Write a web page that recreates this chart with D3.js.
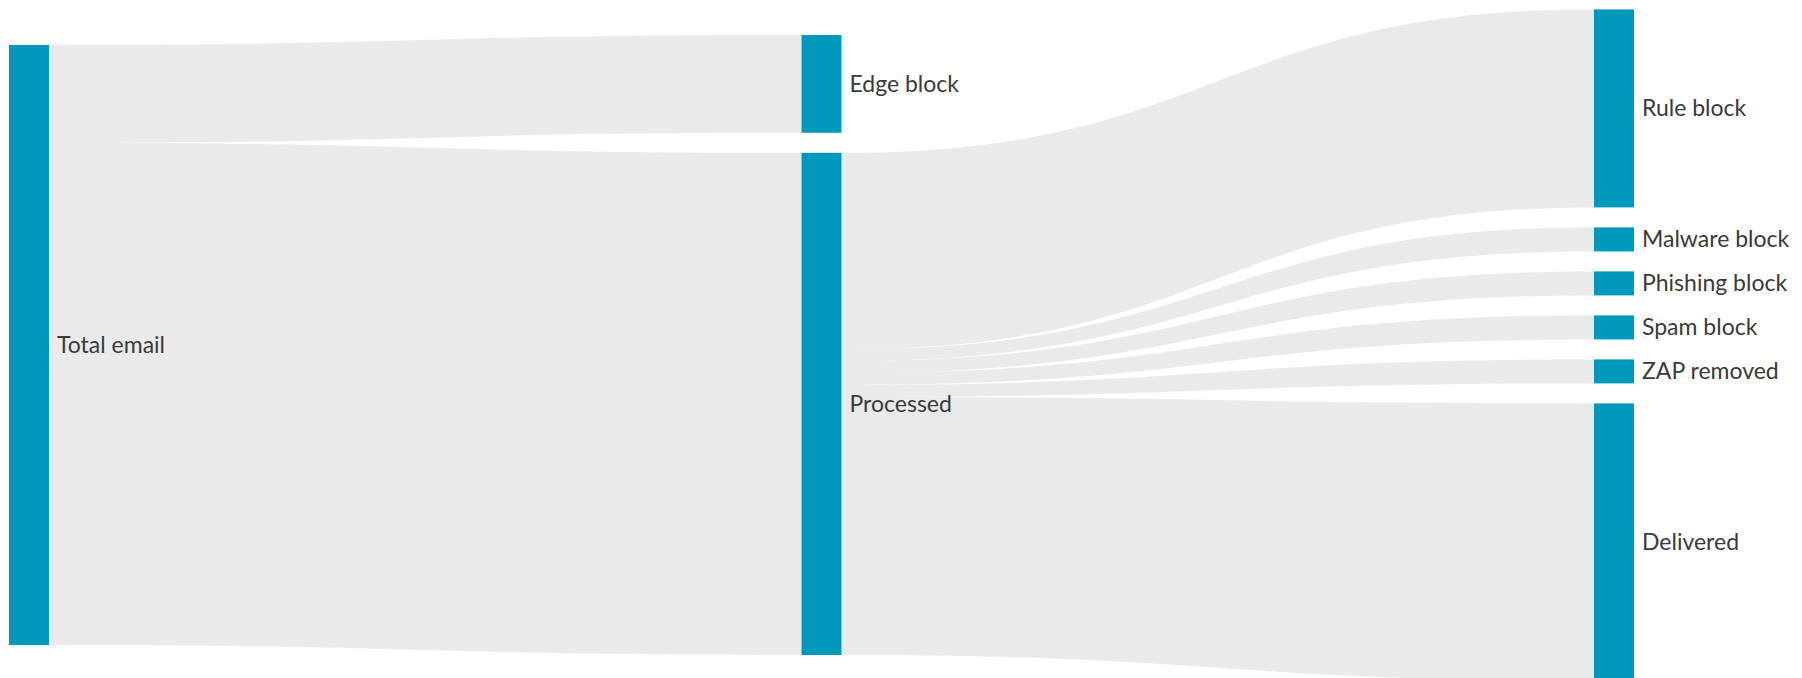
<!DOCTYPE html>
<html>
<head>
<meta charset="utf-8">
<script src="https://cdn.jsdelivr.net/npm/d3@7"></script>
<style>
  body { margin: 0; background: #fff; }
  .label { font-family: Lato, "Noto Sans", sans-serif; font-size: 23px; fill: #3a3a3a; }
</style>
</head>
<body>
<div id="chart"></div>
<script>
// nodes: name, column, size (the node bar height is drawn from size)
const nodeNames = ["Total email", "Edge block", "Processed", "Rule block", "Malware block",
                   "Phishing block", "Spam block", "ZAP removed", "Delivered"];
const nodeColumns = [0, 1, 1, 2, 2, 2, 2, 2, 2];
const nodeSizes = [1000, 163, 837, 330, 40, 40, 40, 40, 462];

// links: source -> target with flow value
const linkSources = ["Total email", "Total email", "Processed", "Processed", "Processed",
                     "Processed", "Processed", "Processed"];
const linkTargets = ["Edge block", "Processed", "Rule block", "Malware block", "Phishing block",
                     "Spam block", "ZAP removed", "Delivered"];
const linkValues = [163, 837, 328, 19, 20, 20, 20, 430];

const width = 1802, height = 678;
const nodeWidth = 40, nodePadding = 20, centerY = 345;

const svg = d3.select("#chart").append("svg")
    .attr("width", width)
    .attr("height", height);

// scales
const x = d3.scaleLinear().domain([0, 2]).range([9, 1594]);
const h = d3.scaleLinear().domain([0, 1000]).range([0, 600]);

const nodes = nodeNames.map((name, i) => ({
    name, col: nodeColumns[i], size: nodeSizes[i], outs: [], ins: []
}));
const byName = new Map(nodes.map(n => [n.name, n]));

// stack each column around the vertical centre
d3.groups(nodes, n => n.col).forEach(([col, list]) => {
    const total = d3.sum(list, n => h(n.size)) + nodePadding * (list.length - 1);
    let y = centerY - total / 2;
    list.forEach(n => {
        n.x0 = x(col);
        n.x1 = n.x0 + nodeWidth;
        n.y0 = y;
        n.y1 = y + h(n.size);
        y = n.y1 + nodePadding;
    });
});

const links = linkValues.map((value, i) => {
    const l = { source: byName.get(linkSources[i]), target: byName.get(linkTargets[i]), value };
    l.source.outs.push(l);
    l.target.ins.push(l);
    return l;
});

// each end of a link takes its share of the node it touches
nodes.forEach(n => {
    const outTotal = d3.sum(n.outs, l => l.value);
    let y = n.y0;
    n.outs.forEach(l => {
        const w = (n.y1 - n.y0) * l.value / outTotal;
        l.sy0 = y; l.sy1 = y + w; y += w;
    });
    const inTotal = d3.sum(n.ins, l => l.value);
    y = n.y0;
    n.ins.forEach(l => {
        const w = (n.y1 - n.y0) * l.value / inTotal;
        l.ty0 = y; l.ty1 = y + w; y += w;
    });
});

function linkPath(l) {
    const x0 = l.source.x1, x1 = l.target.x0, xm = (x0 + x1) / 2;
    const p = d3.path();
    p.moveTo(x0, l.sy0);
    p.bezierCurveTo(xm, l.sy0, xm, l.ty0, x1, l.ty0);
    p.lineTo(x1, l.ty1);
    p.bezierCurveTo(xm, l.ty1, xm, l.sy1, x0, l.sy1);
    p.closePath();
    return p.toString();
}

svg.append("g")
    .selectAll("path")
    .data(links)
    .join("path")
    .attr("d", linkPath)
    .attr("fill", "#d6d6d6")
    .attr("fill-opacity", 0.5);

svg.append("g")
    .selectAll("rect")
    .data(nodes)
    .join("rect")
    .attr("x", d => d.x0)
    .attr("y", d => d.y0)
    .attr("width", nodeWidth)
    .attr("height", d => d.y1 - d.y0)
    .attr("fill", "#0099bc");

svg.append("g")
    .selectAll("text")
    .data(nodes)
    .join("text")
    .attr("class", "label")
    .attr("x", d => d.x1 + 8)
    .attr("y", d => (d.y0 + d.y1) / 2)
    .attr("dy", "0.35em")
    .text(d => d.name);
</script>
</body>
</html>
